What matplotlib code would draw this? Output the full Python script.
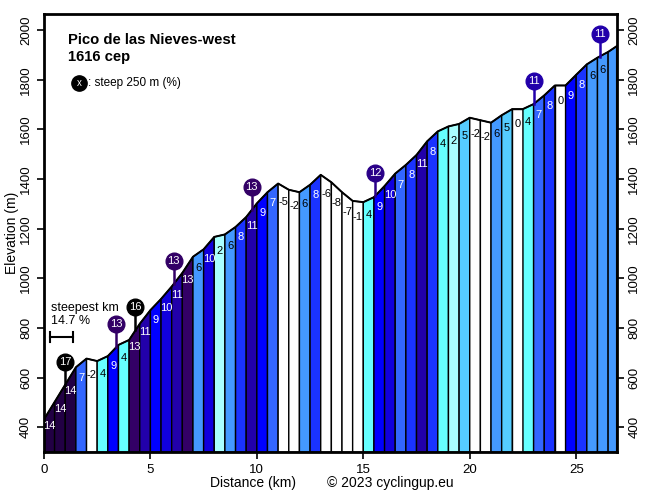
import numpy as np
import matplotlib
matplotlib.use("Agg")
from matplotlib import pyplot as plt

plt.rcParams['font.family'] = ['Liberation Sans', 'DejaVu Sans']

# profile points (km, m)
dist = [0, 0.5, 1, 1.5, 2, 2.5, 3, 3.5, 4, 4.5, 5, 5.5, 6, 6.5, 7, 7.5, 8, 8.5, 9, 9.5,
        10, 10.5, 11, 11.5, 12, 12.5, 13, 13.5, 14, 14.5, 15, 15.5, 16, 16.5, 17, 17.5,
        18, 18.5, 19, 19.5, 20, 20.5, 21, 21.5, 22, 22.5, 23, 23.5, 24, 24.5, 25, 25.5,
        26, 26.5, 26.9]
elev = [432, 502, 572, 642, 677, 667, 687, 732, 752, 817, 872, 917, 967, 1022, 1087, 1117,
        1167, 1177, 1207, 1247, 1302, 1347, 1382, 1357, 1347, 1377, 1417, 1387, 1347, 1312,
        1307, 1327, 1372, 1422, 1457, 1497, 1552, 1592, 1612, 1622, 1647, 1637, 1627, 1657,
        1682, 1682, 1702, 1737, 1777, 1777, 1820, 1862, 1889, 1912, 1935]
# gradient label of each segment (%), None = no label
grad = [14, 14, 14, 7, -2, 4, 9, 4, 13, 11, 9, 10, 11, 13, 6, 10, 2, 6, 8, 11,
        9, 7, -5, -2, 6, 8, -6, -8, -7, -1, 4, 9, 10, 7, 8, 11, 8, 4, 2, 5,
        -2, -2, 6, 5, 0, 4, 7, 8, 0, 9, 8, 6, 6, None]

# steepest 250 m markers
steep_km = [1.0, 3.4, 4.3, 6.1, 9.75, 15.55, 23.0, 26.1]
steep_val = [17, 13, 16, 13, 13, 12, 11, 11]

colors = {14: '#220044', 13: '#330066', 12: '#2a0088', 11: '#2200aa', 10: '#1100dd',
          9: '#0000ff', 8: '#1a33ff', 7: '#3366ff', 6: '#4499ff', 5: '#55ccff',
          4: '#66ffff', 3: '#88ffff', 2: '#aaffff', 1: '#ccffff'}


def grad_color(g):
    if g is None:
        g = 6
    if g <= 0:
        return 'white'
    if g >= 15:
        return 'black'
    return colors[g]


fig = plt.figure(figsize=(6.56, 4.98), dpi=100)
ax = fig.add_axes([0.067, 0.092, 0.873, 0.880])
ybot = 300

for i in range(len(dist) - 1):
    x0, x1 = dist[i], dist[i+1]
    e0, e1 = elev[i], elev[i+1]
    g = grad[i]
    ax.fill([x0, x0, x1, x1], [ybot, e0, e1, ybot], facecolor=grad_color(g),
            edgecolor='black', lw=1.0, zorder=2)
    if g is not None:
        tc = 'white' if g >= 7 else 'black'
        ax.text((x0 + x1) / 2, (e0 + e1) / 2 - 62, str(g), ha='center', va='center',
                fontsize=8, color=tc, zorder=4)

ax.plot(dist, elev, color='black', lw=1.4, zorder=3)

for k, v in zip(steep_km, steep_val):
    base = np.interp(k, dist, elev)
    c = grad_color(v)
    ax.plot([k, k], [base, base + 60], color=c, lw=1.8, zorder=5)
    ax.plot(k, base + 92, 'o', ms=12, color=c, zorder=6)
    ax.text(k, base + 92, str(v), color='white', ha='center', va='center',
            fontsize=8, zorder=7)

# steepest km
ax.text(0.33, 880, "steepest km", fontsize=9, va='center')
ax.text(0.33, 828, "14.7 %", fontsize=9, va='center')
ax.plot([0.3, 1.35], [765, 765], color='black', lw=1.5)
ax.plot([0.3, 0.3], [745, 785], color='black', lw=1.5)
ax.plot([1.35, 1.35], [745, 785], color='black', lw=1.5)

# title and legend
ax.text(1.15, 1960, "Pico de las Nieves-west", fontsize=10.7, fontweight='bold', va='center')
ax.text(1.15, 1892, "1616 cep", fontsize=10.7, fontweight='bold', va='center')
ax.plot(1.65, 1786, 'o', ms=11, color='black')
ax.text(1.65, 1786, "x", color='white', fontsize=7, ha='center', va='center')
ax.text(2.05, 1786, ": steep 250 m (%)", fontsize=8.5, va='center')

ax.set_xlim(0, 26.9)
ax.set_ylim(ybot, 2065)
ax.set_xticks([0, 5, 10, 15, 20, 25])
ax.set_yticks(np.arange(400, 2001, 200))
ax.tick_params(axis='y', labelrotation=90, right=True, labelright=True, length=5, width=1.2, labelsize=9.5)
ax.tick_params(axis='x', length=5, width=1.2, labelsize=9.5)
for lab in ax.get_yticklabels():
    lab.set_va('center')
for t in ax.yaxis.get_major_ticks():
    t.label2.set_va('center')
for s in ax.spines.values():
    s.set_linewidth(2)

ax.set_ylabel("Elevation (m)", fontsize=10)
ax.yaxis.set_label_coords(-0.044, 0.5)
fig.text(0.385, 0.022, "Distance (km)", ha='center', fontsize=10)
fig.text(0.595, 0.022, "© 2023 cyclingup.eu", ha='center', fontsize=10)

plt.savefig("out.png", dpi=100)
